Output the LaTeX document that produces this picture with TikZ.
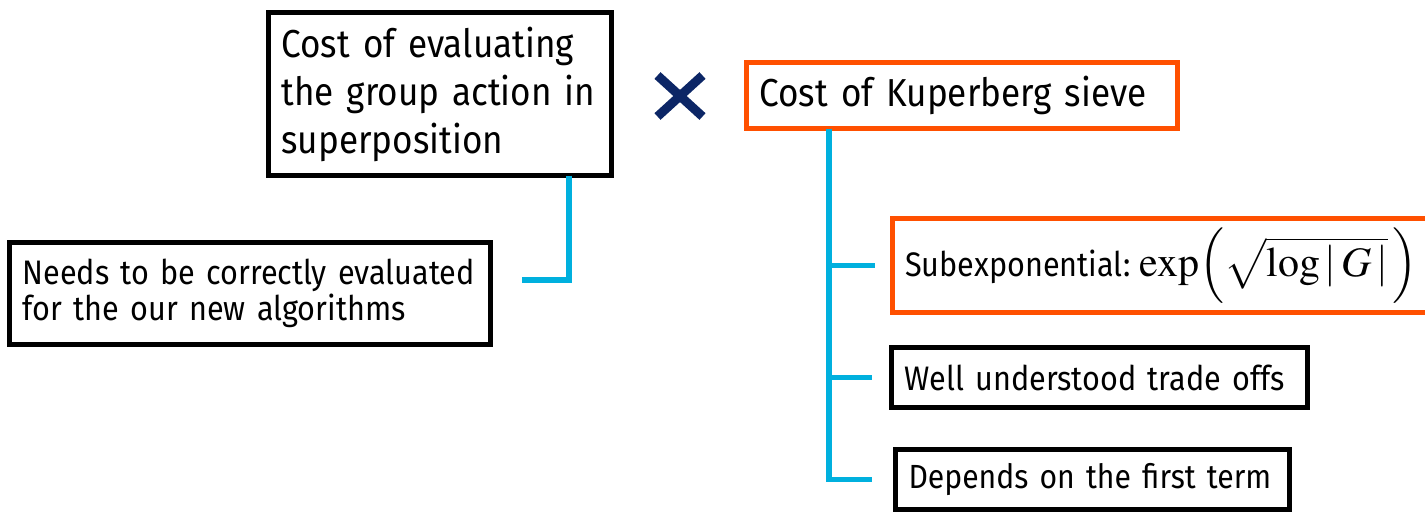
\documentclass[tikz,border=0pt]{standalone}
\usepackage{mathptmx}
\usepackage{fontspec}
\setmainfont[FakeStretch = 0.9]{Fira Sans}
\usetikzlibrary{shapes.misc}
\definecolor{sieveorange}{RGB}{255, 80, 0}
\definecolor{linkblue}{RGB}{0, 176, 222}
\definecolor{crossnavy}{RGB}{12, 38, 102}

\begin{document}
\begin{tikzpicture}[x = 1pt, y = -1pt,
    box/.style = {draw = black, line width = 5pt, rectangle, align = left, inner xsep = 13pt, inner ysep = 0pt, outer sep = 0pt},
    orangebox/.style = {box, draw = sieveorange},
    link/.style = {draw = linkblue, line width = 5.5pt}]

            \useasboundingbox (0, 0) rectangle (1425, 515);

            \node (evalcost) at (440, 94) [box, minimum height = 163, text width = 317, font = \fontsize{39}{48}\selectfont] {Cost of evaluating\\ the group action in\\ superposition};
            \node (evalneeds) at (250, 293.5) [box, minimum height = 102, text width = 455, font = \fontsize{34}{36}\selectfont] {Needs to be correctly evaluated\\ for the our new algorithms};

            \node (times) at (680, 96) [cross out, draw = crossnavy, line width = 9pt, minimum width = 36, minimum height = 32, inner sep = 0pt] {};

            \node (sievecost) at (962, 95.5) [orangebox, minimum height = 66, text width = 405, font = \fontsize{39}{44}\selectfont] {Cost of Kuperberg sieve};
            \node (subexp) at (1166, 265.5) [orangebox, minimum height = 94, text width = 521.5] {\mbox{{\fontsize{34}{36}\selectfont Subexponential:}\hspace{9pt}{\fontsize{42}{46}\selectfont$\exp\Bigl(\sqrt{\log|\,G\,|}\,\Bigr)$}}};
            \node (tradeoffs) at (1099.5, 377.5) [box, minimum height = 60, text width = 390, font = \fontsize{34}{40}\selectfont] {Well understood trade offs};
            \node (firstterm) at (1092.5, 479.5) [box, minimum height = 60, text width = 368, font = \fontsize{33.5}{40}\selectfont] {Depends on the first term};

            \coordinate (evalend) at (522, 280);
            \coordinate (trunk) at ([xshift = 82.5pt]sievecost.south west);

            \draw[link] ([xshift = -42.5pt]evalcost.south east) |- (evalend);
            \draw[link] (trunk) |- ([xshift = -23.5pt]firstterm.west);
            \draw[link] (trunk |- subexp.west) -- ([xshift = -17.5pt]subexp.west);
            \draw[link] (trunk |- tradeoffs.west) -- ([xshift = -19.5pt]tradeoffs.west);
        \end{tikzpicture}
\end{document}
